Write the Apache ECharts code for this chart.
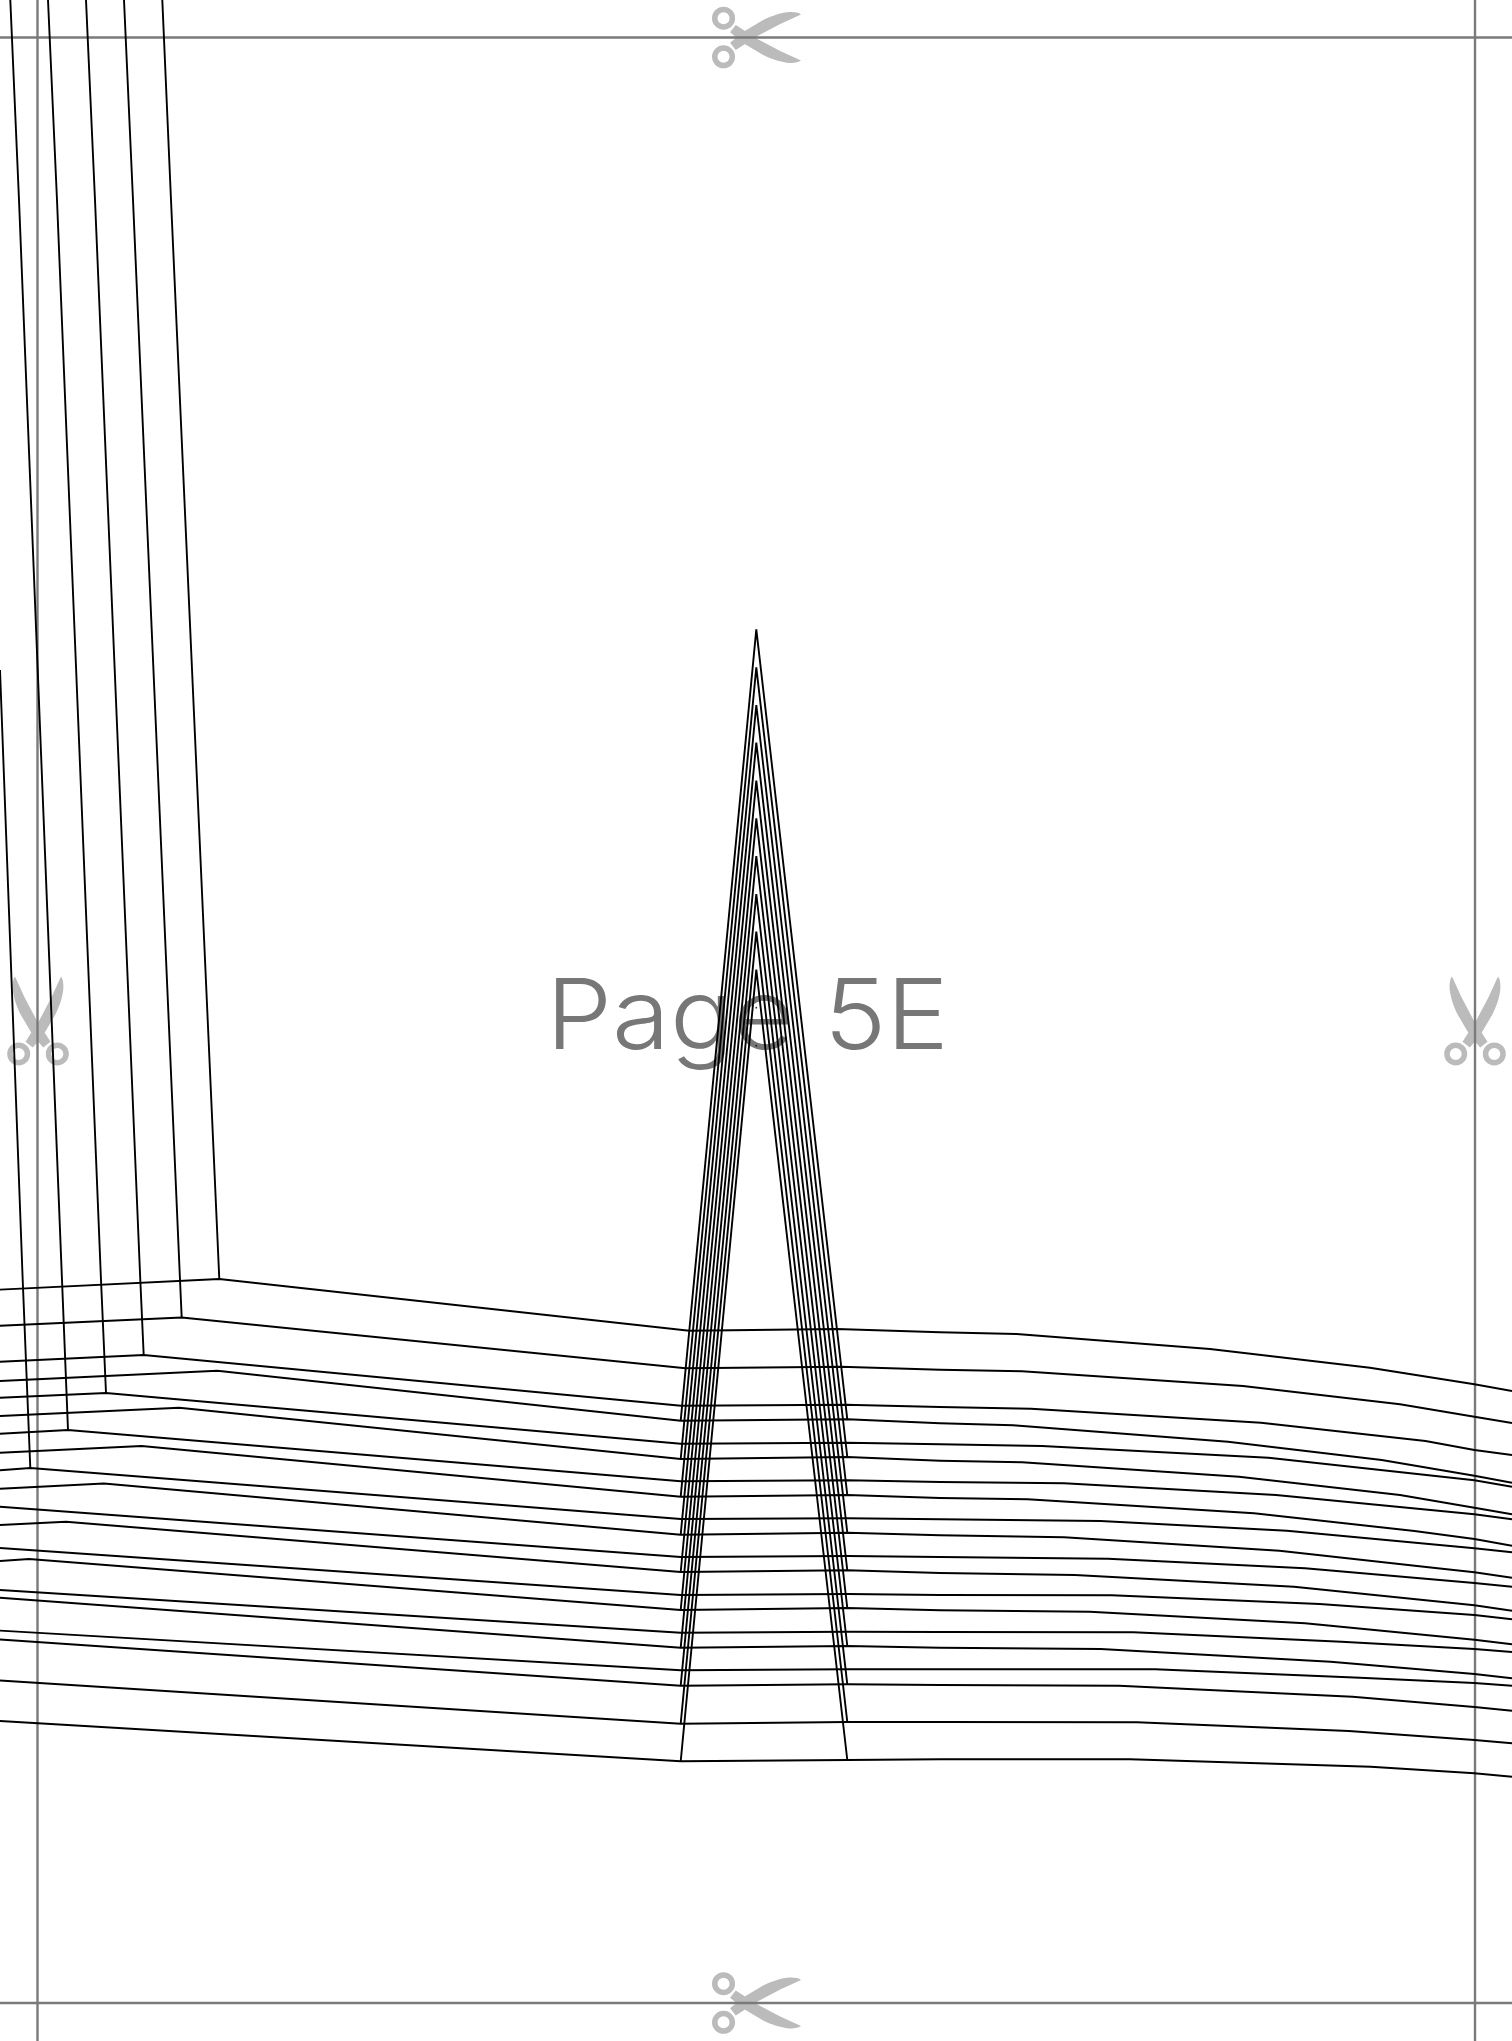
<!DOCTYPE html>
<html>
<head>
<meta charset="utf-8">
<style>html,body{margin:0;padding:0;background:#fff}#c{width:1512px;height:2041px}</style>
<script src="https://cdn.jsdelivr.net/npm/echarts@6/dist/echarts.min.js"></script>
</head>
<body>
<div id="c"></div>
<script>
// Crop guides
const guideTop = [[0,37.5],[1512,37.5]];
const guideBottom = [[0,2003],[1512,2003]];
const guideLeft = [[37.5,0],[37.5,2041]];
const guideRight = [[1475,0],[1475,2041]];
const scissorsHorizontal = [[756.5,37.5],[756.5,2003]];
const scissorsVertical = [[38,1021],[1475,1021]];
const pageLabel = 'Page 5E';

// Vertical pattern lines (upper left)
const vert1 = [[162.3,0],[171,200],[219.3,1279]];
const vert2 = [[124,0],[133,200],[180,1280],[181.7,1317.5]];
const vert3 = [[86,0],[95,200],[140.3,1280],[143.7,1355]];
const vert4 = [[48,0],[57,200],[101,1280],[106,1393]];
const vert5 = [[10.3,0],[19,200],[62,1280],[68,1430]];
const vert6 = [[0,670],[22.7,1280],[30.3,1468]];

// Horizontal pattern lines, left to right
const band1 = [[0,1289.6],[219.3,1279],[689.3,1330.7],[836.8,1329],[940,1332.3],[1016.6,1334],[1210,1349],[1370,1367.7],[1474.4,1384.3],[1512,1391]];
const band2 = [[0,1325.7],[181.7,1317.5],[685.5,1368.3],[841,1366.7],[940,1369.7],[1022,1371.3],[1243,1386],[1400,1404.3],[1474.4,1416.7],[1512,1423]];
const band3 = [[0,1361.7],[143.7,1355],[681,1405.7],[845.5,1404.7],[940,1407],[1031,1408.7],[1261,1422.7],[1425.5,1441],[1474.4,1450],[1512,1455]];
const bandA = [[0,1381],[217.3,1370.7],[680.7,1420.7],[847.3,1419.3],[940,1423.3],[1013,1425.3],[1228,1441.7],[1381.7,1460],[1474.4,1475.7],[1512,1482.7]];
const band4 = [[0,1397.8],[106,1393],[680.7,1443.7],[847.3,1442.7],[940,1444.3],[1042,1446],[1268.5,1457.7],[1474.4,1480.3],[1512,1486.7]];
const bandB = [[0,1416],[179.3,1407.8],[680.7,1459],[847.3,1457],[940,1460.7],[1022,1462.3],[1239,1476.7],[1400,1495],[1474.4,1507.7],[1512,1514.3]];
const band5 = [[0,1433.8],[68,1430],[680.7,1481.3],[847.3,1480.3],[940,1482],[1064,1483.3],[1276,1495],[1474.4,1514.3],[1512,1519.3]];
const bandC = [[0,1452.8],[141.7,1446],[680.7,1496.7],[847.3,1495],[940,1498],[1027.6,1499.3],[1254,1513.3],[1414.5,1531],[1474.4,1539],[1512,1545.7]];
const band6 = [[0,1470.3],[30.3,1468],[680.7,1519],[847.3,1518.3],[940,1519.3],[1100.6,1521],[1287,1530.7],[1474.4,1548.3],[1512,1552.3]];
const bandD = [[0,1488.8],[104,1483.5],[680.7,1534.7],[847.3,1532.7],[940,1535.3],[1064,1537.3],[1279.5,1550.7],[1433,1567.7],[1474.4,1572.3],[1512,1577.7]];
const bandG = [[0,1506.7],[680.7,1557],[847.3,1556],[940,1557],[1108,1558.7],[1305,1568.3],[1474.4,1583],[1512,1586.7]];
const bandE = [[0,1525],[66,1521.7],[680.7,1572],[847.3,1570.3],[940,1573],[1075,1575],[1294,1586.7],[1474.4,1605.3],[1512,1610.7]];
const bandH = [[0,1548],[680.7,1595],[847.3,1594],[940,1595],[1111.6,1595.3],[1319.6,1604],[1474.4,1615],[1512,1619.3]];
const bandF = [[0,1561],[29,1559],[680.7,1610],[847.3,1608],[940,1610.3],[1089.7,1611.7],[1305,1623.3],[1474.4,1639.7],[1512,1644.3]];
const bandI = [[0,1590],[680.7,1632.7],[847.3,1631.7],[940,1632],[1133.5,1632.3],[1341.5,1641.7],[1474.4,1649],[1512,1652]];
const bandJ = [[0,1597.7],[680.7,1647.7],[847.3,1646],[940,1647.7],[1100.6,1649],[1330.6,1661.7],[1474.4,1674],[1512,1678.3]];
const bandK = [[0,1630.6],[680.7,1670.3],[847.3,1669.3],[940,1669.3],[1155,1669.3],[1360,1677.7],[1474.4,1683],[1512,1685.7]];
const bandL = [[0,1639.5],[680.7,1685.7],[847.3,1684.3],[940,1685],[1119,1685.7],[1352.5,1696.7],[1474.4,1707],[1512,1710.7]];
const bandM = [[0,1680.5],[680.7,1723.7],[847.3,1722],[940,1722],[1137,1722.3],[1348.8,1731],[1474.4,1740],[1512,1743.3]];
const bandN = [[0,1721],[680.7,1761.3],[847.3,1760],[940,1759.3],[1130,1759.3],[1370.7,1766.7],[1474.4,1773.3],[1512,1776.7]];

// Nested darts
const dartApexX = 756.3;
const dartLeftX = 680.7;
const dartRightX = 847.3;
const dartApexY = [629.3,667.3,705,742.7,780.7,818.3,856,894,931.7,969.7];
const dartLeftFootY = [1420.7,1459,1496.7,1534.7,1572,1610,1647.7,1685.7,1723.7,1761.3];
const dartRightFootY = [1419.3,1457,1495,1532.7,1570.3,1608,1646,1684.3,1722,1760];
const dartSpecks = [[756.3,1007.7],[756.3,1045.7]];

const scissorPath = 'path://M88.7 7.8C86 5.5 80 5 74.7 5.6C65 7 58 10 51 13.3L33 24C27 28 23 32 18 36L23.7 43.3L45.3 29.3L68 17.3Z'
  + 'M88.7 53.8L68 44.3L45.3 32.3L23.7 18.3L18 25.6C23 29.6 27 33.6 33 37.6L51 48.3C58 51.6 65 54.6 74.7 56C80 56.6 86 56.1 88.7 53.8Z'
  + 'M0 11.5A11.5 11.5 0 1 0 23 11.5A11.5 11.5 0 1 0 0 11.5ZM5.5 11.5A6 6 0 1 1 17.5 11.5A6 6 0 1 1 5.5 11.5Z'
  + 'M0 50.1A11.5 11.5 0 1 0 23 50.1A11.5 11.5 0 1 0 0 50.1ZM5.5 50.1A6 6 0 1 1 17.5 50.1A6 6 0 1 1 5.5 50.1Z';

const black = '#000', gray = '#7a7a7a', light = '#bbbbbb';
function pen(data, color, width, z, join){
  return {type:'line', data, showSymbol:false, symbol:'none', silent:true, z, clip:false,
    lineStyle:{color, width, join:join||'miter', miterLimit:30, cap:'butt'}};
}
const series = [];
series.push({type:'scatter', data:scissorsHorizontal, symbol:scissorPath, symbolSize:[89,61.6], silent:true, z:1, itemStyle:{color:light, opacity:1}});
series.push({type:'scatter', data:scissorsVertical, symbol:scissorPath, symbolSize:[89,61.6], symbolRotate:90, silent:true, z:1, itemStyle:{color:light, opacity:1}});
[guideTop,guideBottom,guideLeft,guideRight].forEach(g=>series.push(pen(g,gray,2.4,2)));
[vert1,vert2,vert3,vert4,vert5,vert6].forEach(v=>series.push(pen(v,black,1.9,3)));
[band1,band2,band3,bandA,band4,bandB,band5,bandC,band6,bandD,bandG,bandE,bandH,bandF,bandI,bandJ,bandK,bandL,bandM,bandN]
  .forEach(b=>series.push(pen(b,black,1.9,3)));
dartApexY.forEach((y,i)=>series.push(pen([[dartLeftX,dartLeftFootY[i]],[dartApexX,y],[dartRightX,dartRightFootY[i]]],black,1.9,3,'bevel')));
series.push({type:'scatter', data:dartSpecks, symbol:'circle', symbolSize:1.8, silent:true, z:3, itemStyle:{color:black}});

const chart = echarts.init(document.getElementById('c'), null, {renderer:'canvas'});
chart.setOption({
  animation:false,
  backgroundColor:'#fff',
  grid:{left:0,right:0,top:0,bottom:0,containLabel:false},
  xAxis:{type:'value',min:0,max:1512,show:false},
  yAxis:{type:'value',min:0,max:2041,inverse:true,show:false},
  graphic:[{type:'text', z:1, x:546, y:971, scaleX:1.085, style:{text:pageLabel, fill:'#777777', font:'300 97px Inter, "Open Sans", sans-serif'}}],
  series
});
</script>
</body>
</html>
